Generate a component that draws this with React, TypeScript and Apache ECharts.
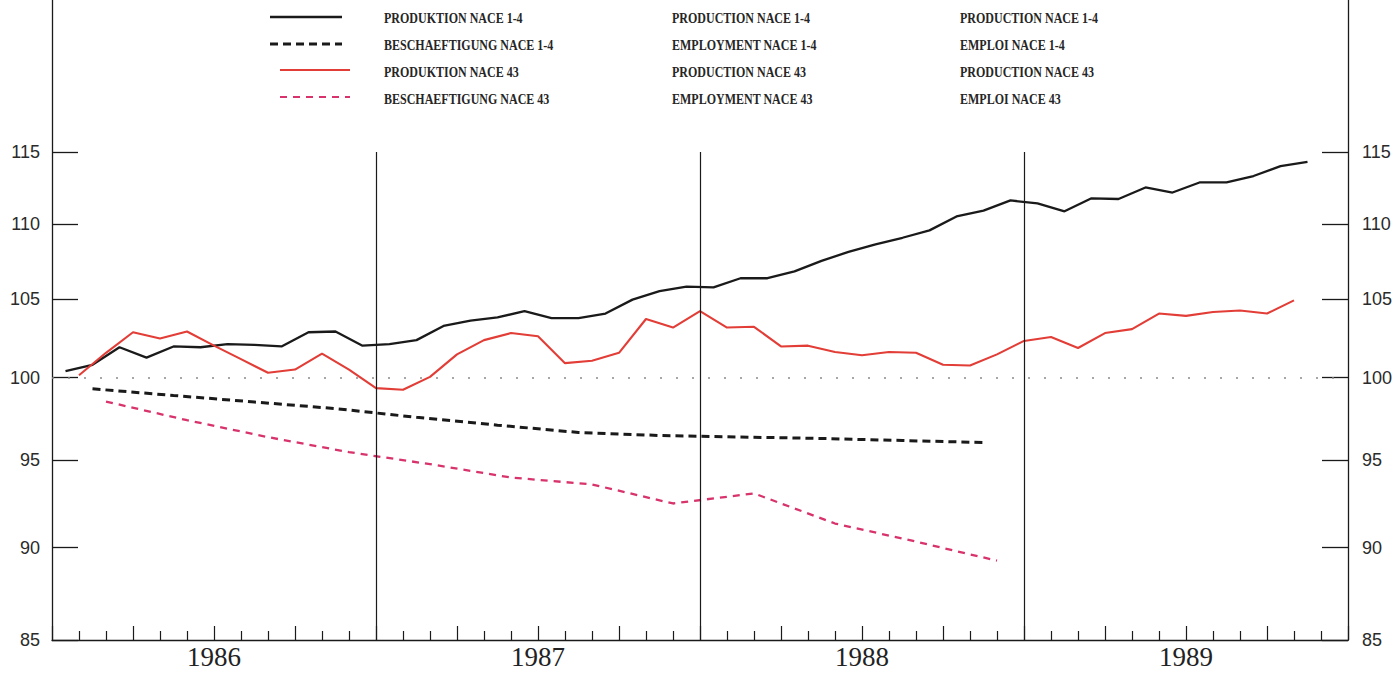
import React, { useEffect, useRef } from "react";
import * as echarts from "echarts";

// ---- data -------------------------------------------------------------
const yTickValues = [85, 90, 95, 100, 105, 110, 115];
const yearLabels = ["1986", "1987", "1988", "1989"];
const yearCentres = [6, 18, 30, 42]; // month index (0 = Jan 1986)
const yearBoundaries = [12, 24, 36];
const referenceLevel = 100;

// monthly, Jan 1986 .. Nov 1989 (mid-month)
const productionNace14 = [
  100.4, 100.8, 101.9, 101.25, 101.95, 101.9, 102.1, 102.05, 101.95, 102.85, 102.9, 102.0,
  102.1, 102.35, 103.25, 103.6, 103.8, 104.2, 103.75, 103.75, 104.05, 104.95, 105.5, 105.8,
  105.75, 106.35, 106.35, 106.8, 107.5, 108.1, 108.6, 109.05, 109.55, 110.5, 110.9, 111.6,
  111.4, 110.85, 111.75, 111.7, 112.5, 112.15, 112.85, 112.85, 113.3, 114.0, 114.3,
];
// monthly, end of Jan 1986 .. end of Oct 1989
const productionNace43 = [
  100.15, 101.55, 102.85, 102.45, 102.9, 102.0, 101.15, 100.3, 100.5, 101.5, 100.5, 99.35,
  99.25, 100.05, 101.45, 102.35, 102.8, 102.6, 100.9, 101.05, 101.55, 103.7, 103.15, 104.2,
  103.15, 103.2, 101.95, 102.0, 101.6, 101.4, 101.6, 101.55, 100.8, 100.75, 101.45, 102.3,
  102.55, 101.85, 102.8, 103.05, 104.05, 103.9, 104.15, 104.25, 104.05, 104.9,
];
// quarterly, Q1 1986 .. Q4 1988
const employmentNace14 = [99.31, 98.9, 98.5, 98.1, 97.57, 97.1, 96.66, 96.48, 96.39, 96.3, 96.18, 96.06];
const employmentNace43 = [98.53, 97.4, 96.38, 95.49, 94.78, 94.0, 93.6, 92.5, 93.08, 91.36, 90.34, 89.28];

const seriesNamesDE = ["PRODUKTION NACE 1-4", "BESCHAEFTIGUNG NACE 1-4", "PRODUKTION NACE 43", "BESCHAEFTIGUNG NACE 43"];
const seriesNamesEN = ["PRODUCTION NACE 1-4", "EMPLOYMENT NACE 1-4", "PRODUCTION NACE 43", "EMPLOYMENT NACE 43"];
const seriesNamesFR = ["PRODUCTION NACE 1-4", "EMPLOI NACE 1-4", "PRODUCTION NACE 43", "EMPLOI NACE 43"];

// ---- styles -----------------------------------------------------------
const BLACK = "#1a1a1a";
const RED = "#e23d36";
const PINK = "#d8336c";

const L = (v: number) => Math.log10(v);

export default function App() {
  const ref = useRef<HTMLDivElement>(null);

  useEffect(() => {
    if (!ref.current) return;
    const chart = echarts.init(ref.current, null, { renderer: "svg" });

    const gridTop = 0;
    const yTop115 = 152;
    const yBottom = 640;
    const lo = L(85);
    const hi = L(115);
    const maxTop = lo + ((hi - lo) * (yBottom - gridTop)) / (yBottom - yTop115);

    const yTickLog = yTickValues.map(L);

    const yAxisBase = (position: "left" | "right", margin: number) => ({
      type: "value",
      position,
      min: lo,
      max: maxTop,
      axisLine: { show: true, lineStyle: { color: BLACK, width: 1.3 } },
      axisTick: { show: true, inside: true, length: 26, customValues: yTickLog, lineStyle: { color: BLACK, width: 1.3 } },
      axisLabel: {
        show: true,
        customValues: yTickLog,
        formatter: (v: number) => String(Math.round(Math.pow(10, v))),
        fontFamily: "Liberation Sans",
        fontSize: 18,
        color: "#2a2a2a",
        margin,
      },
      splitLine: { show: false },
    });

    const legendLines = [
      { x1: 270, x2: 342, y: 17, color: BLACK, width: 2.6, dash: null },
      { x1: 270, x2: 342, y: 44, color: BLACK, width: 3, dash: [8, 5] },
      { x1: 280, x2: 350, y: 70, color: RED, width: 2, dash: null },
      { x1: 280, x2: 350, y: 97, color: PINK, width: 2.2, dash: [7, 6] },
    ];
    const colX = [384, 672, 960];
    const rowY = [18, 45, 72, 99];
    const graphic: any[] = [];
    legendLines.forEach((l) => {
      graphic.push({
        type: "line",
        silent: true,
        shape: { x1: l.x1, y1: l.y, x2: l.x2, y2: l.y },
        style: { stroke: l.color, lineWidth: l.width, lineDash: l.dash || undefined },
      });
    });
    [seriesNamesDE, seriesNamesEN, seriesNamesFR].forEach((names, c) => {
      names.forEach((t, r) => {
        graphic.push({
          type: "text",
          silent: true,
          x: colX[c],
          y: rowY[r],
          scaleX: 0.8,
          style: {
            text: t,
            fontFamily: "Liberation Serif",
            fontWeight: "bold",
            fontSize: 15,
            fill: "#262626",
            align: "left",
            verticalAlign: "middle",
          },
        });
      });
    });

    chart.setOption({
      animation: false,
      backgroundColor: "#ffffff",
      grid: { left: 52, right: 46, top: gridTop, bottom: 674 - yBottom, containLabel: false, outerBoundsMode: "none" },
      xAxis: {
        type: "value",
        min: 0,
        max: 48,
        interval: 3,
        axisLine: { show: true, lineStyle: { color: BLACK, width: 1.3 } },
        axisTick: { show: true, inside: true, length: 14, lineStyle: { color: BLACK, width: 1.2 } },
        minorTick: { show: true, splitNumber: 3, length: 9, lineStyle: { color: BLACK, width: 1.2 } },
        axisLabel: {
          customValues: yearCentres,
          formatter: (v: number) => yearLabels[yearCentres.indexOf(Math.round(v))] ?? "",
          fontFamily: "Liberation Serif",
          fontSize: 27,
          lineHeight: 28,
          color: "#222",
          margin: 3,
        },
        splitLine: { show: false },
        minorSplitLine: { show: false },
      },
      yAxis: [yAxisBase("left", 12), yAxisBase("right", 14)],
      graphic,
      series: [
        {
          name: seriesNamesDE[0],
          type: "line",
          symbol: "none",
          data: productionNace14.map((v, i) => [i + 0.5, L(v)]),
          lineStyle: { color: BLACK, width: 2.3 },
          z: 3,
          markLine: {
            silent: true,
            symbol: ["none", "none"],
            label: { show: false },
            lineStyle: { color: BLACK, width: 1.2, type: "solid" },
            data: yearBoundaries.map((m) => [{ coord: [m, L(85)] }, { coord: [m, L(115)] }]),
          },
        },
        {
          name: seriesNamesDE[1],
          type: "line",
          symbol: "none",
          data: employmentNace14.map((v, q) => [1.5 + 3 * q, L(v)]),
          lineStyle: { color: BLACK, width: 3, type: [8, 5] },
          z: 3,
          markLine: {
            silent: true,
            symbol: ["none", "none"],
            label: { show: false },
            lineStyle: { color: "#8a8a8a", width: 1.6, type: [2, 14] },
            data: [{ yAxis: L(referenceLevel) }],
          },
        },
        {
          name: seriesNamesDE[2],
          type: "line",
          symbol: "none",
          data: productionNace43.map((v, k) => [k + 1, L(v)]),
          lineStyle: { color: RED, width: 2.1 },
          z: 4,
        },
        {
          name: seriesNamesDE[3],
          type: "line",
          symbol: "none",
          data: employmentNace43.map((v, q) => [2 + 3 * q, L(v)]),
          lineStyle: { color: PINK, width: 2.3, type: [7, 6] },
          z: 4,
        },
      ],
    });

    return () => chart.dispose();
  }, []);

  return (
    <div
      ref={ref}
      style={{ position: "absolute", left: 0, top: 0, width: 1394, height: 674, background: "#fff" }}
    />
  );
}
